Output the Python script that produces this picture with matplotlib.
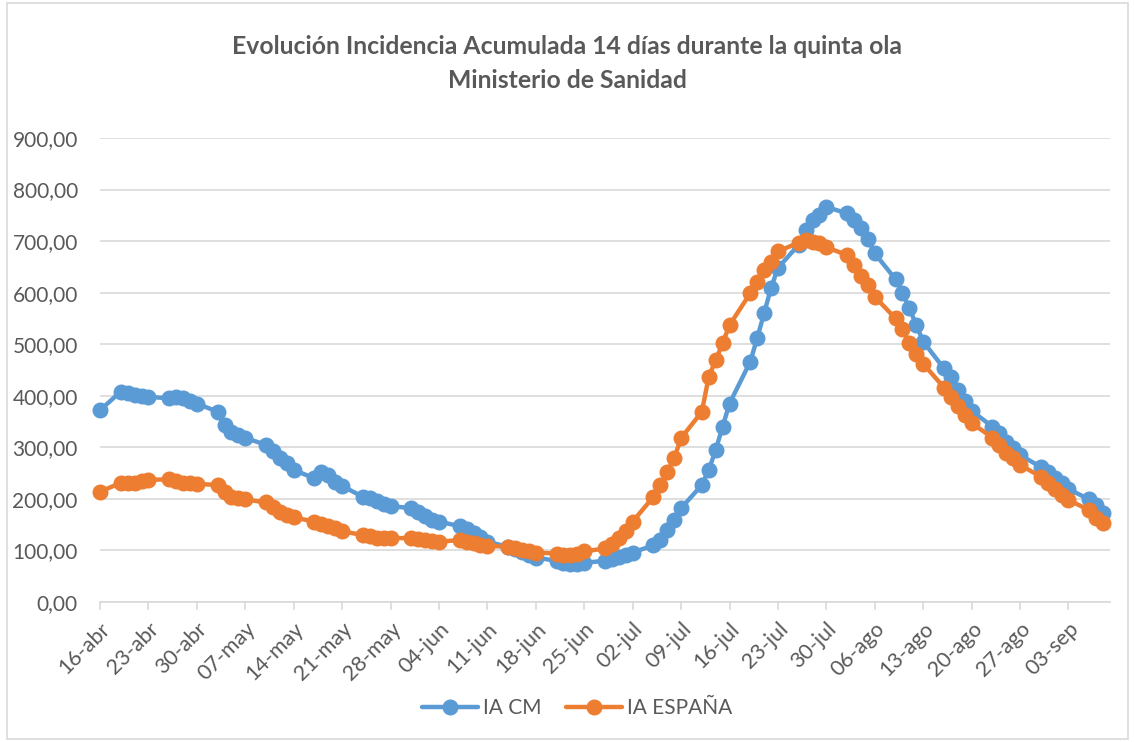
import matplotlib
matplotlib.use('Agg')
import matplotlib.pyplot as plt
from matplotlib.patches import Rectangle
from matplotlib.ticker import FuncFormatter
import pandas as pd

plt.rcParams['font.family'] = ['Lato', 'DejaVu Sans']

# one value per working day, 16-abr-2021 .. 08-sep-2021
dates = pd.bdate_range('2021-04-16', '2021-09-08')

ia_cm = [
    372,
    408, 405, 402, 400, 398,
    395, 397, 395, 389, 385,
    369, 343, 330, 324, 318,
    305, 292, 279, 269, 256,
    240, 253, 246, 233, 225,
    204, 201, 195, 190, 186,
    182, 175, 167, 160, 156,
    147, 141, 133, 127, 117,
    107, 102, 97, 91, 86,
    80, 75, 74, 74, 76,
    80, 84, 88, 92, 96,
    110, 120, 140, 159, 182,
    227, 256, 295, 340, 385,
    466, 512, 560, 609, 648,
    693, 722, 741, 751, 766,
    754, 741, 725, 704, 676,
    626, 600, 570, 537, 505,
    453, 437, 411, 389, 371,
    340, 327, 311, 298, 285,
    262, 253, 240, 230, 219,
    199, 188, 172,
]

ia_espana = [
    214,
    231, 231, 230, 235, 237,
    238, 235, 231, 231, 229,
    227, 214, 204, 201, 199,
    193, 185, 175, 169, 164,
    156, 151, 148, 143, 137,
    130, 128, 125, 125, 124,
    124, 122, 120, 118, 117,
    120, 117, 114, 111, 109,
    107, 104, 101, 98, 96,
    94, 91, 91, 93, 98,
    104, 113, 124, 138, 156,
    204, 227, 253, 279, 318,
    369, 437, 469, 502, 537,
    599, 621, 644, 660, 680,
    697, 702, 699, 696, 688,
    673, 654, 633, 615, 592,
    550, 529, 502, 482, 462,
    416, 398, 380, 363, 347,
    319, 305, 289, 279, 266,
    243, 230, 219, 208, 198,
    178, 162, 153,
]

tick_labels = ['16-abr', '23-abr', '30-abr', '07-may', '14-may', '21-may',
               '28-may', '04-jun', '11-jun', '18-jun', '25-jun', '02-jul',
               '09-jul', '16-jul', '23-jul', '30-jul', '06-ago', '13-ago',
               '20-ago', '27-ago', '03-sep']
tick_dates = pd.date_range('2021-04-16', periods=len(tick_labels), freq='7D')

W, H = 1134, 742
grey_txt = '#595959'
grid_col = '#D9D9D9'

fig = plt.figure(figsize=(W / 100, H / 100), dpi=100)
ax = fig.add_axes([100 / W, 1 - 602 / H, 1010 / W, 464 / H])

ax.plot(dates, ia_cm, color='#5B9BD5', lw=3.2, marker='o', ms=10.5,
        label='IA CM', solid_capstyle='round', clip_on=False, zorder=3)
ax.plot(dates, ia_espana, color='#ED7D31', lw=3.2, marker='o', ms=10.5,
        label='IA ESPAÑA', solid_capstyle='round', clip_on=False, zorder=4)

ax.set_ylim(0, 900)
ax.set_yticks(range(0, 901, 100))
ax.yaxis.set_major_formatter(FuncFormatter(lambda v, p: f'{v:.2f}'.replace('.', ',')))
ax.set_xlim(dates[0], pd.Timestamp('2021-09-09'))
ax.set_xticks(tick_dates)
ax.set_xticklabels(tick_labels, rotation=45, ha='right', va='top',
                   rotation_mode='anchor')

ax.grid(axis='y', color=grid_col, lw=1.2)
ax.set_axisbelow(True)
for s in ['top', 'right', 'left']:
    ax.spines[s].set_visible(False)
ax.spines['bottom'].set_color(grid_col)
ax.spines['bottom'].set_linewidth(1.2)
ax.tick_params(axis='y', length=0, pad=16, labelsize=15, labelcolor=grey_txt)
ax.tick_params(axis='x', length=6, width=1.2, color=grid_col, pad=6,
               labelsize=15.5, labelcolor=grey_txt)

fig.text(0.5, 1 - 47 / H, 'Evolución Incidencia Acumulada 14 días durante la quinta ola',
         ha='center', va='center', fontsize=17.8, weight='bold', color=grey_txt)
fig.text(0.5, 1 - 81 / H, 'Ministerio de Sanidad',
         ha='center', va='center', fontsize=17.8, weight='bold', color=grey_txt)

fig.legend(loc='center', bbox_to_anchor=(577 / W, 1 - 708 / H), ncol=2,
           frameon=False, fontsize=15, labelcolor=grey_txt, handlelength=2.7,
           handletextpad=0.2, columnspacing=1.2, markerscale=1.0)

fig.add_artist(Rectangle((7 / W, 3 / H), 1121 / W, 736 / H, transform=fig.transFigure,
                         fill=False, edgecolor=grid_col, lw=1.2))

fig.savefig('out.png', dpi=100)
